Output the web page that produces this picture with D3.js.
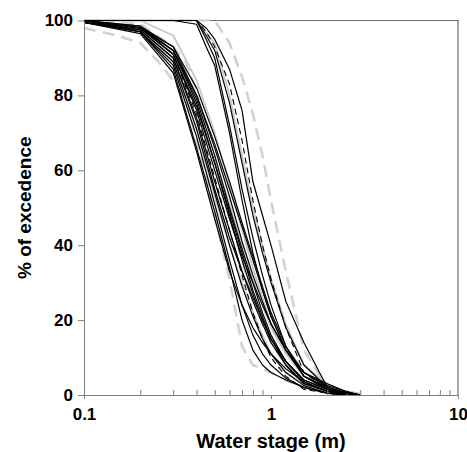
<!DOCTYPE html>
<html>
<head>
<meta charset="utf-8">
<script src="https://cdn.jsdelivr.net/npm/d3@7"></script>
<style>
  body { margin: 0; background: #fff; }
  svg { display: block; font-family: "Liberation Sans", Arial, sans-serif; }
  .axis path, .axis line { stroke: #808080; }
  .axis text { font-size: 17px; font-weight: bold; fill: #000; }
</style>
</head>
<body>
<svg id="chart" width="467" height="452"></svg>
<script>
// water stage (m) at which each curve value was read
const stages = [0.1, 0.15, 0.2, 0.25, 0.3, 0.35, 0.4, 0.45, 0.5, 0.6, 0.7, 0.8, 0.9, 1, 1.2, 1.5, 2, 2.5, 3];
const _ = null;

// black solid curves (% of excedence)
const blackLines = [
    [100, _, 98, _, 92, _, 78, _, 62, 48, 36, 27, 20, 15, 9, 4, 1.5, 0.5, 0],
    [99.5, _, 97.5, _, 90, _, 74, _, 57, 44, 33, 25, 19, 14, 8, 3, 1, 0, _],
    [100, _, 97, _, 89, _, 71, _, 54, 40, 29, 21, 15, 11, 6, 2.5, 0.5, 0, _],
    [100, _, 98, _, 93, _, 80, _, 66, 53, 41, 32, 25, 19, 12, 6, 2.5, 1, 0],
    [99.5, _, 97, _, 88, _, 69, _, 51, 36, 24, 16, 11, 8, 4.5, 2, 0.5, 0, _],
    [100, _, 98.5, _, 93, _, 82, _, 69, 57, 46, 37, 29, 22, 13, 6, 2, 0.8, 0],
    [99.5, _, 97, _, 87, _, 66, _, 49, 34, 20, 12, 8, 6, 4, 2, 0.5, 0, _],
    [100, _, 98, _, 91, _, 76, _, 60, 47, 37, 30, 24, 19, 12, 6, 3, 1, 0],
    [100, _, 97.5, _, 90, _, 73, _, 55, 42, 33, 26, 20, 15, 9, 4, 1.5, 0.5, 0],
    [100, _, 98, _, 92, _, 79, _, 64, 50, 39, 30, 22, 16, 9, 3.5, 1, 0, _],
    [99.5, _, 96.5, _, 86, _, 65, _, 47, 33, 24, 18, 14, 11, 7, 3.5, 1, 0, _],
    [100, _, 98, _, 91, _, 77, _, 62, 49, 38, 28, 21, 15, 8, 3, 1, 0.3, 0],
    [100, _, 98.5, _, 92, _, 80, _, 67, 55, 45, 36, 28, 21, 12, 5, 2, 0.5, 0],
    // late starting group
    [100, _, 100, _, 100, _, 100, 98, 95, 87, 76, 57, 48, 40, 25, 14, 2, 0.5, 0],
    [100, _, 100, _, 100, _, 100, 96, 92, 78, 62, 48, 38, 30, 18, 8, 2, 0.5, 0],
    [100, _, 100, _, 100, _, 100, 95, 90, 72, 55, 42, 32, 24, 13, 5, 1.5, 0, _],
    [100, _, 100, _, 100, _, 99, 93, 88, 70, 52, 38, 28, 21, 12, 5, 1.5, 0.5, 0]
];

// black dashed curves
const blackDashed = [
    [100, _, 100, _, 100, _, 100, 97, 93, 83, 68, 52, 40, 31, 18, 6, 1.5, 0.5, 0],
    [100, _, 98, _, 91, _, 75, _, 58, 44, 32, 22, 15, 10, 5, 1.5, 0.5, 0, _]
];

// light grey solid curves
const greyLines = [
    [100, _, 100, _, 96, _, 84, _, 70, 56, 44, 34, 26, 19, 11, 5, 2, 1, 0.3],
    [99.5, _, 97.5, _, 89, _, 71, _, 53, 40, 30, 22, 16, 11, 6, 3, 1.5, 0.8, 0.3],
    [100, _, 98, _, 91, _, 77, _, 63, 51, 40, 31, 24, 18, 11, 5, 2.5, 1, 0.3],
    [100, _, 100, _, 100, _, 100, _, 94, 80, 64, 50, 40, 31, 19, 8, 3, 1, 0.3]
];

// light grey dashed curves (envelopes + median)
const greyDashed = [
    [98, 96, 94, 89, 84, 79, 68, 58, 48, 31, 13, 8, 7, 6, 4, 2, 0.8, 0.3, 0],
    [100, _, 99, _, 93, 89, 81, 71, 62, 48, 36, 26, 19, 14, 8, 3, 1.5, 0.5, 0],
    [100, _, 100, _, 100, _, 100, _, 100, 94, 85, 75, 64, 52, 33, 12, 2, 0.5, 0]
];

const xTicks = [0.1, 1, 10];
const xMinor = [0.2, 0.3, 0.4, 0.5, 0.6, 0.7, 0.8, 0.9, 2, 3, 4, 5, 6, 7, 8, 9];
const yTicks = [0, 20, 40, 60, 80, 100];

const svg = d3.select("#chart");
const x0 = 84, x1 = 458, y0 = 20.5, y1 = 395;

const x = d3.scaleLog().domain([0.1, 10]).range([x0, x1]);
const y = d3.scaleLinear().domain([0, 100]).range([y1, y0]);

const line = d3.line()
    .x(function (d) { return x(d[0]); })
    .y(function (d) { return y(d[1]); });

function toPoints(vals) {
    return stages.map(function (s, i) { return [s, vals[i]]; })
        .filter(function (d) { return d[1] != null; });
}

function drawSet(data, color, width, dash) {
    svg.append("g").selectAll("path").data(data).enter().append("path")
        .attr("d", function (d) { return line(toPoints(d)); })
        .attr("fill", "none")
        .attr("stroke", color)
        .attr("stroke-width", width)
        .attr("stroke-dasharray", dash)
        .attr("stroke-linejoin", "round");
}

// frame top and right
svg.append("path")
    .attr("d", "M" + x0 + "," + y0 + "H" + x1 + "V" + y1)
    .attr("fill", "none").attr("stroke", "#6e6e6e").attr("stroke-width", 1.2);

drawSet(greyDashed, "#d2d2d2", 2.6, "12,7");
drawSet(greyLines, "#c8c8c8", 1.8, null);
drawSet(blackLines, "#000", 1.2, null);
drawSet(blackDashed, "#000", 1.1, "6,4");

// y axis
svg.append("g").attr("class", "axis")
    .attr("transform", "translate(" + x0 + ",0)")
    .call(d3.axisLeft(y).tickValues(yTicks).tickSize(6).tickSizeOuter(0).tickPadding(5));

// x axis minor ticks (inside)
svg.append("g").attr("class", "axis")
    .attr("transform", "translate(0," + y1 + ")")
    .call(d3.axisBottom(x).tickValues(xMinor).tickSize(-5).tickFormat(""))
    .select(".domain").remove();

// x axis major ticks
svg.append("g").attr("class", "axis")
    .attr("transform", "translate(0," + y1 + ")")
    .call(d3.axisBottom(x).tickValues(xTicks).tickSize(4).tickSizeOuter(0).tickPadding(9)
        .tickFormat(function (d) { return String(d); }));

svg.append("text")
    .attr("x", (x0 + x1) / 2).attr("y", 448)
    .attr("text-anchor", "middle")
    .style("font-size", "20px").style("font-weight", "bold")
    .text("Water stage (m)");

svg.append("text")
    .attr("transform", "translate(31," + (y0 + y1) / 2 + ") rotate(-90)")
    .attr("text-anchor", "middle")
    .style("font-size", "19px").style("font-weight", "bold")
    .text("% of excedence");
</script>
</body>
</html>
